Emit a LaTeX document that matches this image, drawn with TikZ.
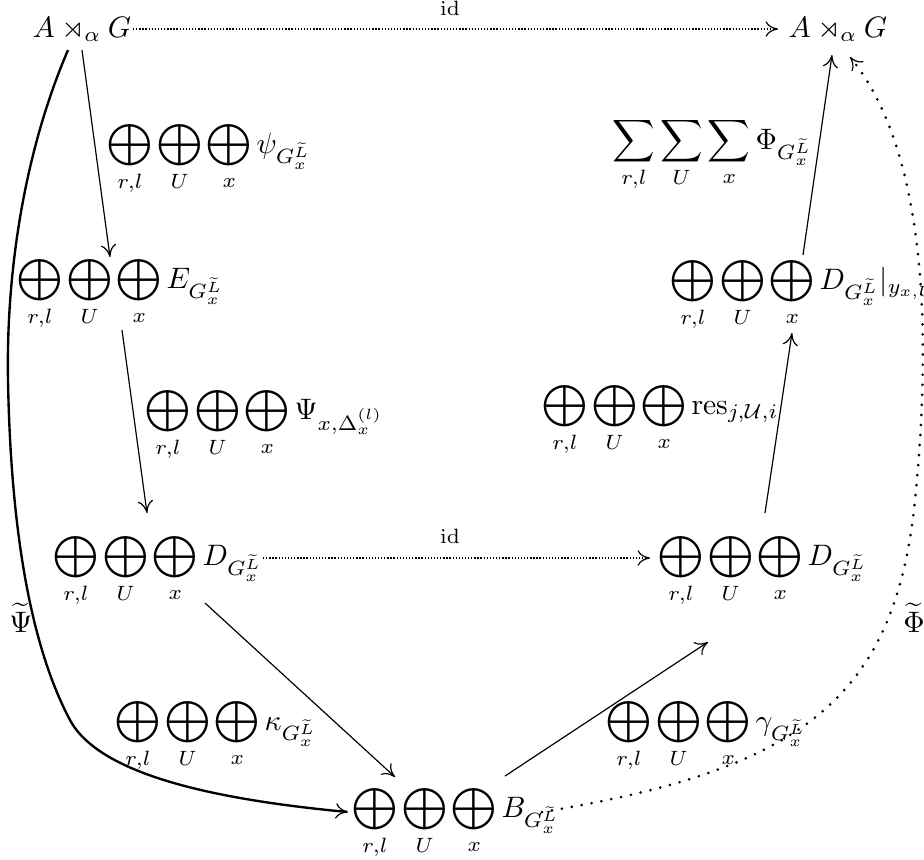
\documentclass[tikz,border=0pt]{standalone}
\usepackage{amsmath,amssymb}
\usetikzlibrary{arrows.meta,calc}
\begin{document}
\begin{tikzpicture}[x=0.338pt,y=-0.338pt,
  obj/.style={inner sep=0pt,anchor=base west},
  lbl/.style={inner sep=0pt,anchor=base west},
  tipcm/.tip={Computer Modern Rightarrow[length=4.2pt,width=5.2pt]},
  arr/.style={line width=0.4pt,-{tipcm}},
  dotarr/.style={line width=0.45pt,dash pattern=on 0.45pt off 0.6pt,-{tipcm[line width=0.4pt]}},
  thickarr/.style={line width=0.8pt,-{tipcm[line width=0.4pt]}},
  bigdot/.style={line width=1pt,line cap=round,dash pattern=on 0pt off 3.4pt,-{tipcm[line width=0.4pt]}}]
\useasboundingbox (0,0) rectangle (924,859);
\newcommand{\Gx}{G^{\widetilde{L}}_x}
\newcommand{\ooo}{\displaystyle\bigoplus_{r,l}\bigoplus_{U}\bigoplus_{x}}
% objects
\node[obj] (tl) at (32,37) {$A\rtimes_\alpha G$};
\node[obj] (tr) at (788,37) {$A\rtimes_\alpha G$};
\node[obj] (E)  at (17,288) {$\ooo E_{\Gx}$};
\node[obj] (Dl) at (53,565) {$\ooo D_{\Gx}$};
\node[obj] (B)  at (352,817) {$\ooo B_{\Gx}$};
\node[obj] (Dr) at (658,565) {$\ooo D_{\Gx}$};
\node[obj] (Dy) at (670,289) {$\ooo D_{\Gx}|_{y_{x,U}}$};
% labels
\node[lbl] (lpsi) at (107,153) {$\ooo \psi_{\Gx}$};
\node[lbl] (lPsi) at (145,419) {$\ooo \Psi_{x,\Delta_x^{(l)}}$};
\node[lbl] (lkap) at (115,730) {$\ooo \kappa_{\Gx}$};
\node[lbl] (lgam) at (606,730) {$\ooo \gamma_{\Gx}$};
\node[lbl] (lres) at (542,414) {$\ooo \mathrm{res}_{j,\mathcal{U},i}$};
\node[lbl] (lsum) at (612,149) {$\displaystyle\sum_{r,l}\sum_{U}\sum_{x}\Phi_{\Gx}$};
\node[inner sep=0pt,anchor=base] (lid1) at (450,15) {$\scriptstyle\mathrm{id}$};
\node[inner sep=0pt,anchor=base] (lid2) at (450,543) {$\scriptstyle\mathrm{id}$};
\node[inner sep=0pt] (lPsit) at (21,618) {$\widetilde{\Psi}$};
\node[inner sep=0pt] (lPhit) at (914,618) {$\widetilde{\Phi}$};
% connectors
\draw[arr] ($(tl.base west)+(50,13)$) -- ($(E.base west)+(93,-31)$);
\draw[arr] ($(E.base west)+(105,42)$) -- ($(Dl.base west)+(94,-52)$);
\draw[arr] ($(Dl.base west)+(152,38)$) -- ($(B.base west)+(43,-40)$);
\draw[arr] ($(B.base west)+(153,-41)$) -- ($(Dr.base west)+(50,77)$);
\draw[arr] ($(Dr.base west)+(107,-52)$) -- ($(Dy.base west)+(122,44)$);
\draw[arr] ($(Dy.base west)+(133,-34)$) -- ($(tr.base west)+(44,18)$);
\draw[dotarr] ($(tl.base west)+(101,-8)$) -- ($(tr.base west)+(-10,-8)$);
\draw[dotarr] ($(Dl.base west)+(210,-7)$) -- ($(Dr.base west)+(-8,-7)$);
\draw[thickarr] ($(tl.base west)+(36,13)$) .. controls (25,150) and (6,270) .. (8,380)
   .. controls (10,490) and (22,630) .. (70,720)
   .. controls (100,776) and (220,800) .. ($(B.base west)+(-4,-5)$);
\draw[bigdot] ($(B.base west)+(190,-5)$) .. controls (800,770) and (895,700) .. (915,500)
   .. controls (935,300) and (918,140) .. ($(tr.base west)+(62,20)$);
\end{tikzpicture}
\end{document}
